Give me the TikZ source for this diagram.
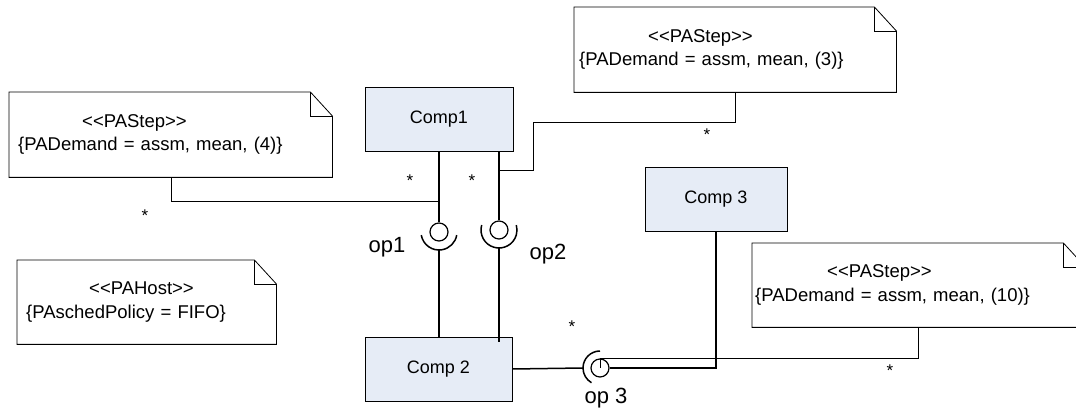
\documentclass[tikz,border=0pt]{standalone}
\usepackage{fontspec}
\setmainfont{Liberation Sans}
\usetikzlibrary{positioning}

\definecolor{compfill}{RGB}{230,236,246}

\tikzset{
  comp/.style={draw, line width=0.8pt, fill=compfill, minimum width=#1, minimum height=64pt,
    font=\fontsize{18}{21}\selectfont},
  comp/.default=148pt,
  note/.style={anchor=north west, inner ysep=0pt, align=left, font=\fontsize{18.5}{23.5}\selectfont},
  ball/.style={circle, draw, fill=white, line width=1.2pt, minimum size=18pt, inner sep=0pt},
  wire/.style={line width=1.5pt},
  link/.style={line width=1pt},
  oplabel/.style={font=\fontsize{22}{26}\selectfont},
  mult/.style={font=\fontsize{17}{20}\selectfont, inner sep=0pt}
}

% outline of a note with its folded corner
\newcommand{\dogear}[1]{%
  \draw[line width=0.8pt] (#1.south west) -- (#1.north west) -- ([xshift=-22pt]#1.north east)
    -- ([yshift=-24pt]#1.north east) -- (#1.south east) -- cycle;
  \draw[line width=0.8pt] ([xshift=-22pt]#1.north east) |- ([yshift=-24pt]#1.north east);}

\begin{document}
\begin{tikzpicture}[x=1pt, y=-1pt]
    \useasboundingbox (0,0) rectangle (1076,411);
    \clip (0,0) rectangle (1076,411);

    % Notes
    \node[note, text width=305pt, inner xsep=9pt, minimum height=85pt] (step4) at (9,92)
      {\hspace*{64pt}<{}<PAStep>{}>\\\{PADemand = assm, mean, (4)\}};
    \node[note, text width=312pt, inner xsep=5pt, minimum height=85pt] (step3) at (574,7)
      {\hspace*{69pt}<{}<PAStep>{}>\\\{PADemand = assm, mean, (3)\}};
    \node[note, text width=327pt, inner xsep=3pt, minimum height=84pt] (step10) at (752,243)
      {\hspace*{72pt}<{}<PAStep>{}>\\\{PADemand = assm, mean, (10)\}};
    \node[note, text width=241pt, inner xsep=9pt, minimum height=84pt] (host) at (17,260)
      {\hspace*{63pt}<{}<PAHost>{}>\\\{PAschedPolicy = FIFO\}};
    \foreach \n in {step4, step3, step10, host} {
      \dogear{\n}
    }

    % Components
    \node[comp=148pt] (comp1) at (439,119.5) {Comp1};
    \node[comp=147pt] (comp2) at (438.5,369) {Comp 2};
    \node[comp=142pt] (comp3) at (716,199) {Comp 3};

    % Provided interfaces
    \node[ball] (op1ball) at (439,232) {};
    \node[ball] (op2ball) at (499,230) {};
    \node[ball] (op3ball) at (600,368) {};

    % Required interfaces (sockets)
    \draw[wire] (op1ball.center) ++(190:18pt) arc[start angle=190, end angle=350, radius=18pt];
    \draw[wire] (op2ball.center) ++(164:18pt) arc[start angle=164, end angle=376, radius=18pt];
    \draw[wire] (op3ball.center) ++(90:17pt) arc[start angle=90, end angle=240, radius=17pt];
    \coordinate (op1cup) at ([yshift=-18pt]op1ball.center);
    \coordinate (op2cup) at ([yshift=-18pt]op2ball.center);
    \coordinate (op3cup) at ([xshift=-17pt]op3ball.center);

    % Wires between components
    \draw[wire] (comp1.south -| op1ball) -- (op1ball.north);
    \draw[wire] (op1cup) -- (op1cup |- comp2.north);
    \draw[wire] (comp1.south -| op2ball) -- (op2ball.north);
    \draw[wire] (op2cup) -- ([yshift=-5pt]op2cup |- comp2.north);
    \draw[wire] (comp2.east) -- (op3cup);
    \draw[wire] (comp3.south) |- (op3ball.east);

    % Note links
    \coordinate (tap1) at (439,202);
    \coordinate (tap2) at (499,171);
    \coordinate (bend2) at (533,123);
    \draw[link] ([xshift=162pt]step4.south west) |- (tap1);
    \draw[link] ([xshift=161pt]step3.south west) |- (bend2) |- (tap2);
    \draw[link] ([xshift=166pt]step10.south west) |- (op3ball.north) -- (op3ball.center);

    % Labels
    \node[oplabel] (op1) at (387,247) {op1};
    \node[oplabel] (op2) at (548,254) {op2};
    \node[oplabel] (op3) at (606,398) {op 3};

    % Multiplicities
    \foreach \n/\x/\y in {1/145/216, 2/410/181, 3/472/181, 4/707/135, 5/572/327, 6/890/371} {
      \node[mult] (mult\n) at (\x,\y) {*};
    }
\end{tikzpicture}
\end{document}
